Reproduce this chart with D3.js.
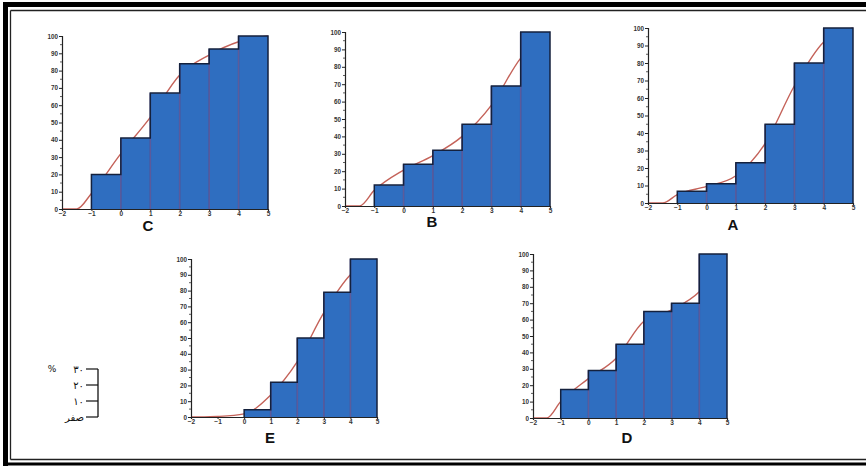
<!DOCTYPE html>
<html>
<head>
<meta charset="utf-8">
<script src="https://cdn.jsdelivr.net/npm/d3@7"></script>
<style>
html,body{margin:0;padding:0;background:#fff;}
svg{display:block;}
</style>
</head>
<body>
<svg id="chart" width="866" height="466"></svg>
<script>
// ---------- data ----------
const panelNames = ["C", "B", "A", "E", "D"];
const binStarts = [-1, 0, 1, 2, 3, 4];
const xTicks = [-2, -1, 0, 1, 2, 3, 4, 5];
const yTicks = [0, 10, 20, 30, 40, 50, 60, 70, 80, 90, 100];
const valuesC = [20, 41, 67, 84, 92.5, 100];
const valuesB = [12, 24, 32, 47, 69, 100];
const valuesA = [6.7, 11, 23, 45, 80, 100];
const valuesE = [0, 4.6, 22, 50, 79, 100];
const valuesD = [17.4, 29, 45, 65, 70, 100];
const lineX = [-2, -1.5, -1, 0, 1, 2, 3, 4, 5];
const lineC = [0, 0, 9, 32, 53, 77.5, 89, 96.7, 100];
const lineB = [0, 0, 9, 20.6, 29, 40, 58, 85, 100];
const lineA = [0, 0, 4.8, 9.5, 15.6, 34, 67, 92, 100];
const lineE = [0, 0, 0.3, 2, 14, 35, 66, 90, 100];
const lineD = [0, 0, 10, 24, 36.5, 59, 66, 77, 100];
const legendTicks = [0, 10, 20, 30];
const legendLabels = ["صفر", "١٠", "٢٠", "٣٠"];

// ---------- layout ----------
const layout = {
  C: {x0: 62, x1: 268, yT: 36, yB: 209, lx: 148, ly: 226},
  B: {x0: 345, x1: 550, yT: 32, yB: 206, lx: 432, ly: 222},
  A: {x0: 648, x1: 853, yT: 28, yB: 203, lx: 733, ly: 225},
  E: {x0: 191, x1: 377, yT: 259, yB: 417, lx: 270, ly: 438},
  D: {x0: 533, x1: 727, yT: 254, yB: 418, lx: 627, ly: 438}
};
const barVals = {C: valuesC, B: valuesB, A: valuesA, E: valuesE, D: valuesD};
const lineVals = {C: lineC, B: lineB, A: lineA, E: lineE, D: lineD};

const svg = d3.select("#chart");
const W = 866, H = 466;

// frame
svg.append("rect").attr("x", 3).attr("y", 2).attr("width", W).attr("height", 5).attr("fill", "#000");
svg.append("rect").attr("x", 3).attr("y", 2).attr("width", 5).attr("height", 464).attr("fill", "#000");
svg.append("rect").attr("x", 3).attr("y", 462.5).attr("width", W).attr("height", 3).attr("fill", "#000");
svg.append("line").attr("x1", 10.5).attr("x2", W).attr("y1", 10.5).attr("y2", 10.5).attr("stroke", "#222").attr("stroke-width", 1.3);
svg.append("line").attr("x1", 10.5).attr("x2", 10.5).attr("y1", 10.5).attr("y2", 459.5).attr("stroke", "#222").attr("stroke-width", 1.3);
svg.append("line").attr("x1", 10.5).attr("x2", W).attr("y1", 459.5).attr("y2", 459.5).attr("stroke", "#222").attr("stroke-width", 1.3);

const barFill = "#2f6ec0";
const edgeDark = "#14213d";
const sepColor = "#5d4f8f";
const curveColor = "#c46259";

panelNames.forEach(name => {
  const L = layout[name];
  const x = d3.scaleLinear().domain([-2, 5]).range([L.x0, L.x1]);
  const y = d3.scaleLinear().domain([0, 100]).range([L.yB, L.yT]);
  const g = svg.append("g");
  const vals = barVals[name];
  const lv = lineVals[name];

  // cumulative curve (drawn under bars)
  const line = d3.line().x((d, i) => x(lineX[i])).y(d => y(d)).curve(d3.curveMonotoneX);
  g.append("path").datum(lv).attr("d", line)
    .attr("fill", "none").attr("stroke", curveColor).attr("stroke-width", 1.4);

  // bars
  const bars = binStarts.map((s, i) => ({s, v: vals[i]})).filter(d => d.v > 0);
  g.selectAll("rect.bar").data(bars).join("rect").attr("class", "bar")
    .attr("x", d => x(d.s)).attr("width", d => x(d.s + 1) - x(d.s))
    .attr("y", d => y(d.v)).attr("height", d => y(0) - y(d.v))
    .attr("fill", barFill);
  // internal separators
  g.selectAll("line.sep").data(bars.slice(1)).join("line").attr("class", "sep")
    .attr("x1", d => x(d.s)).attr("x2", d => x(d.s))
    .attr("y1", d => y(d.v)).attr("y2", y(0))
    .attr("stroke", sepColor).attr("stroke-width", 1.6).attr("opacity", 0.8);
  // dark step outline
  const stepPts = [];
  bars.forEach((d, i) => {
    const prev = i === 0 ? 0 : bars[i - 1].v;
    stepPts.push([x(d.s), y(prev)]);
    stepPts.push([x(d.s), y(d.v)]);
    stepPts.push([x(d.s + 1), y(d.v)]);
  });
  const last = bars[bars.length - 1];
  stepPts.push([x(last.s + 1), y(0)]);
  g.append("path").attr("d", d3.line()(stepPts))
    .attr("fill", "none").attr("stroke", edgeDark).attr("stroke-width", 1.5);

  // axes
  const yAxis = d3.axisLeft(y).tickValues(yTicks).tickSize(3).tickPadding(1).tickFormat(d3.format("d"));
  const ya = g.append("g").attr("transform", `translate(${L.x0},0)`).call(yAxis);
  ya.select(".domain").attr("stroke", "#222").attr("stroke-width", 1.2);
  ya.selectAll(".tick line").attr("stroke", "#222");
  ya.selectAll("text").attr("font-size", 6.3).attr("font-weight", "bold")
    .attr("font-family", "Liberation Sans, Arial, sans-serif").attr("fill", "#333");
  // minor ticks
  g.selectAll("line.minor").data(yTicks.slice(1).map(t => t - 5)).join("line").attr("class", "minor")
    .attr("x1", L.x0 - 2).attr("x2", L.x0).attr("y1", d => y(d)).attr("y2", d => y(d))
    .attr("stroke", "#333").attr("stroke-width", 0.8);

  const xAxis = d3.axisBottom(x).tickValues(xTicks).tickSize(2).tickPadding(0.5).tickFormat(d3.format("d"));
  const xa = g.append("g").attr("transform", `translate(0,${L.yB})`).call(xAxis);
  xa.select(".domain").attr("stroke", "#222").attr("stroke-width", 1.2);
  xa.selectAll(".tick line").attr("stroke", "#222");
  xa.selectAll("text").attr("font-size", 6.5).attr("font-weight", "bold")
    .attr("font-family", "Liberation Sans, Arial, sans-serif").attr("fill", "#333");

  // panel letter
  g.append("text").attr("x", L.lx).attr("y", L.ly).attr("dy", "0.36em")
    .attr("text-anchor", "middle").attr("font-size", 15).attr("font-weight", "bold")
    .attr("font-family", "Liberation Sans, Arial, sans-serif").attr("fill", "#111").text(name);
});

// scale legend
const ly = d3.scaleLinear().domain([0, 30]).range([417, 369]);
const lg = svg.append("g");
lg.append("line").attr("x1", 98).attr("x2", 98).attr("y1", ly(0)).attr("y2", ly(30))
  .attr("stroke", "#111").attr("stroke-width", 1.3);
lg.selectAll("line.lt").data(legendTicks).join("line").attr("class", "lt")
  .attr("x1", 86).attr("x2", 98).attr("y1", d => ly(d)).attr("y2", d => ly(d))
  .attr("stroke", "#111").attr("stroke-width", 1.2);
lg.selectAll("text.ll").data(legendTicks).join("text").attr("class", "ll")
  .attr("x", 84).attr("y", d => ly(d)).attr("dy", "0.35em").attr("text-anchor", "end")
  .attr("font-size", 10).attr("font-family", "DejaVu Sans, sans-serif").attr("fill", "#111")
  .text((d, i) => legendLabels[i]);
lg.append("text").attr("x", 52).attr("y", ly(30)).attr("dy", "0.35em").attr("text-anchor", "middle")
  .attr("font-size", 9).attr("font-family", "DejaVu Sans, sans-serif").attr("fill", "#111").text("%");
</script>
</body>
</html>
